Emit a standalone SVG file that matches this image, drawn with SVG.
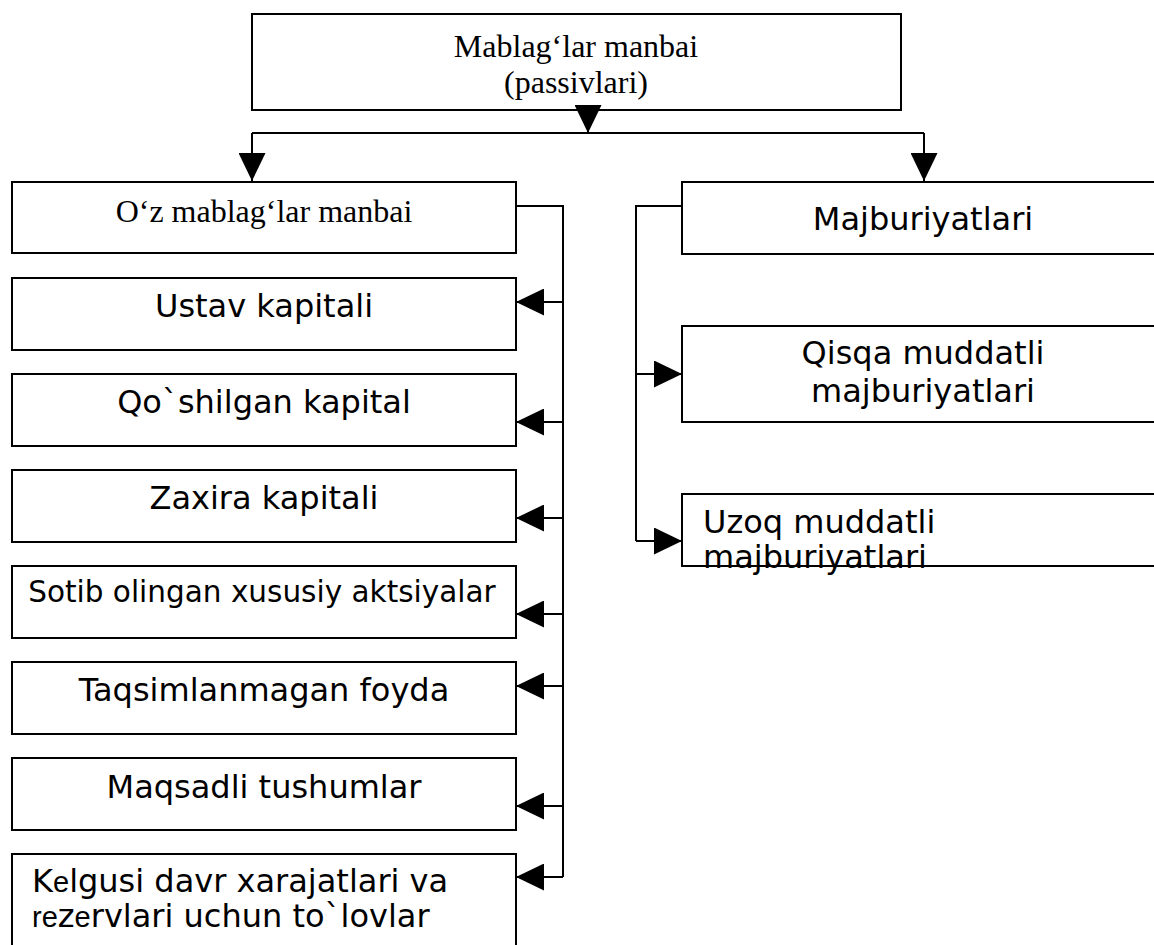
<svg xmlns="http://www.w3.org/2000/svg" width="1154" height="945" viewBox="0 0 1154 945">
<style>
.box{fill:#fff;stroke:#000;stroke-width:2}
.serif{font-family:"Liberation Serif","Times New Roman",serif;font-size:32px;fill:#000}
.sans{font-family:"DejaVu Sans",sans-serif;font-size:32px;fill:#000}
.alt{font-family:"Liberation Sans",Arial,sans-serif;font-size:29px}
.conn{fill:none;stroke:#000;stroke-width:2}
</style>
<defs>
<marker id="arr" markerUnits="userSpaceOnUse" viewBox="0 0 28 27" markerWidth="28" markerHeight="27" refX="28" refY="13.5" orient="auto">
<path d="M0,0 L28,13.5 L0,27 z" fill="#000"/>
</marker>
</defs>
<rect width="1154" height="945" fill="#fff"/>

<g id="n-root">
<rect class="box" x="252" y="14" width="649" height="96"/>
<text class="serif" x="576" y="57" text-anchor="middle">Mablag‘lar manbai</text>
<text class="serif" x="576" y="93" text-anchor="middle">(passivlari)</text>
</g>

<g id="n-oz">
<rect class="box" x="12" y="182" width="504" height="71"/>
<text class="serif" x="264" y="222" text-anchor="middle">O‘z mablag‘lar manbai</text>
</g>
<g id="n-ustav">
<rect class="box" x="12" y="278" width="504" height="72"/>
<text class="sans" x="264" y="317" text-anchor="middle">Ustav kapitali</text>
</g>
<g id="n-qoshilgan">
<rect class="box" x="12" y="374" width="504" height="72"/>
<text class="sans" x="264" y="413" text-anchor="middle">Qo`shilgan kapital</text>
</g>
<g id="n-zaxira">
<rect class="box" x="12" y="470" width="504" height="72"/>
<text class="sans" x="264" y="509" text-anchor="middle">Zaxira kapitali</text>
</g>
<g id="n-sotib">
<rect class="box" x="12" y="566" width="504" height="72"/>
<text class="sans" x="262" y="602" text-anchor="middle" style="font-size:29.5px">Sotib olingan xususiy aktsiyalar</text>
</g>
<g id="n-taqsim">
<rect class="box" x="12" y="662" width="504" height="72"/>
<text class="sans" x="264" y="701" text-anchor="middle">Taqsimlanmagan foyda</text>
</g>
<g id="n-maqsadli">
<rect class="box" x="12" y="758" width="504" height="72"/>
<text class="sans" x="264" y="798" text-anchor="middle">Maqsadli tushumlar</text>
</g>
<g id="n-kelgusi">
<rect class="box" x="12" y="854" width="504" height="120"/>
<text class="sans" x="32" y="892">K<tspan class="alt">e</tspan>lgusi davr xarajatlari va</text>
<text class="sans" x="32" y="927"><tspan class="alt">re</tspan>z<tspan class="alt">e</tspan>rvlari uchun to`lovlar</text>
</g>

<g id="n-majb">
<rect class="box" x="682" y="182" width="490" height="72"/>
<text class="sans" x="923" y="230" text-anchor="middle">Majburiyatlari</text>
</g>
<g id="n-qisqa">
<rect class="box" x="682" y="326" width="490" height="96"/>
<text class="sans" x="923" y="364" text-anchor="middle">Qisqa muddatli</text>
<text class="sans" x="923" y="402" text-anchor="middle">majburiyatlari</text>
</g>
<g id="n-uzoq">
<rect class="box" x="682" y="494" width="490" height="72"/>
<text class="sans" x="703" y="533">Uzoq muddatli</text>
<text class="sans" x="703" y="568">majburiyatlari</text>
<line x1="682" y1="566" x2="1154" y2="566" stroke="#000" stroke-width="2"/>
</g>

<g id="connectors" class="conn">
<line x1="588" y1="110" x2="588" y2="133" marker-end="url(#arr)"/>
<line x1="252" y1="133" x2="924" y2="133"/>
<line x1="252" y1="133" x2="252" y2="181" marker-end="url(#arr)"/>
<line x1="924" y1="133" x2="924" y2="181" marker-end="url(#arr)"/>
<path d="M516,206 H563 V877"/>
<line x1="563" y1="302" x2="516" y2="302" marker-end="url(#arr)"/>
<line x1="563" y1="422" x2="516" y2="422" marker-end="url(#arr)"/>
<line x1="563" y1="518" x2="516" y2="518" marker-end="url(#arr)"/>
<line x1="563" y1="614" x2="516" y2="614" marker-end="url(#arr)"/>
<line x1="563" y1="686" x2="516" y2="686" marker-end="url(#arr)"/>
<line x1="563" y1="806" x2="516" y2="806" marker-end="url(#arr)"/>
<line x1="563" y1="877" x2="516" y2="877" marker-end="url(#arr)"/>
<path d="M682,206 H636 V541"/>
<line x1="636" y1="374" x2="682" y2="374" marker-end="url(#arr)"/>
<line x1="636" y1="541" x2="682" y2="541" marker-end="url(#arr)"/>
</g>
</svg>
